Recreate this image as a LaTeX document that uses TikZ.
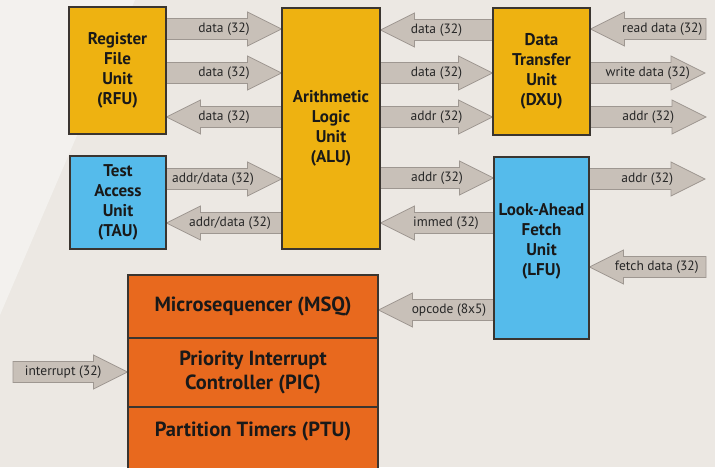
\documentclass[tikz,border=0pt]{standalone}
\usepackage{fontspec}
\setmainfont{PT Sans}
\usetikzlibrary{calc,positioning}

\definecolor{unityellow}{HTML}{EEB211}
\definecolor{unitblue}{HTML}{55BBEB}
\definecolor{unitorange}{HTML}{E8691E}
\definecolor{busfill}{HTML}{C8C0B8}
\definecolor{busline}{HTML}{9E9791}
\definecolor{pagebg}{HTML}{ECE8E3}
\definecolor{pagelight}{HTML}{F3F1EE}
\definecolor{unitline}{HTML}{3A3530}

\pgfdeclarelayer{back}
\pgfdeclarelayer{buses}
\pgfsetlayers{back,buses,main}

% block arrow: [label opts]{label name}{from}{to}{text}
\newcommand{\busarrow}[5][]{%
  \begin{pgfonlayer}{buses}
  \path[bus] let \p1=#3, \p2=#4 in
    (\x1,\y1+10.5pt) -- ({\x2-sign(\x2-\x1)*34pt},\y1+10.5pt)
    -- ({\x2-sign(\x2-\x1)*34pt},\y1+17pt) -- (\x2,\y1)
    -- ({\x2-sign(\x2-\x1)*34pt},\y1-17pt) -- ({\x2-sign(\x2-\x1)*34pt},\y1-10.5pt)
    -- (\x1,\y1-10.5pt) -- cycle
    ({(\x1+\x2)/2},\y1) node[buslabel,#1] (#2) {#5};
  \end{pgfonlayer}}

\begin{document}
\begin{tikzpicture}[
  x=1pt, y=-1pt,
  unit/.style={draw=unitline, line width=1.1pt, align=center, inner sep=0pt, text=black!90,
    font=\bfseries\fontsize{17}{20}\selectfont},
  core/.style={unit, fill=unitorange, minimum width=250pt,
    font=\bfseries\fontsize{20.5}{23.5}\selectfont},
  bus/.style={fill=busfill, draw=busline, line width=0.8pt, line join=miter},
  buslabel/.style={inner sep=0pt, text=black!85, font=\fontsize{13.5}{15}\selectfont}
]
\useasboundingbox (0,0) rectangle (715,467);
\begin{pgfonlayer}{back}
  \fill[pagebg] (0,0) rectangle (715,467);
  \fill[pagelight] (0,0) -- (135,0) -- (0,315) -- cycle;
\end{pgfonlayer}

% units
\node[unit, fill=unityellow, minimum width=97pt, minimum height=127pt] (rfu) at (117.5,70.5) {Register\\File\\Unit\\(RFU)};
\node[unit, fill=unityellow, minimum width=98pt, minimum height=241pt] (alu) at (331,128.5) {Arithmetic\\Logic\\Unit\\(ALU)};
\node[unit, fill=unityellow, minimum width=97pt, minimum height=127pt] (dxu) at (541.5,71.5) {Data\\Transfer\\Unit\\(DXU)};
\node[unit, fill=unitblue, minimum width=96pt, minimum height=93pt] (tau) at (118,202.5) {Test\\Access\\Unit\\(TAU)};
\node[unit, fill=unitblue, minimum width=95pt, minimum height=182pt, text depth=17pt] (lfu) at (541.5,248) {Look-Ahead\\Fetch\\Unit\\(LFU)};

\node[core, minimum height=63pt] (msq) at (253,306.5) {Microsequencer (MSQ)};
\node[core, minimum height=69pt] (pic) at (253,372.5) {Priority Interrupt\\Controller (PIC)};
\node[core, minimum height=62pt, text depth=17pt] (ptu) at (253,438) {Partition Timers (PTU)};

% free ends
\coordinate (rdin) at (706,29);
\coordinate (wdout) at (705,73);
\coordinate (adout) at (706,117);
\coordinate (faout) at (705,179);
\coordinate (fdin) at (706,267);
\coordinate (irqin) at (13,372);

% buses
\busarrow{l1}{(rfu.east |- 0,29)}{(alu.west |- 0,29)}{data (32)}
\busarrow{l2}{(rfu.east |- 0,73)}{(alu.west |- 0,73)}{data (32)}
\busarrow{l3}{(alu.west |- 0,117)}{(rfu.east |- 0,117)}{data (32)}
\busarrow{l4}{(dxu.west |- 0,30)}{(alu.east |- 0,30)}{data (32)}
\busarrow{l5}{(alu.east |- 0,73)}{(dxu.west |- 0,73)}{data (32)}
\busarrow{l6}{(alu.east |- 0,117)}{(dxu.west |- 0,117)}{addr (32)}
\busarrow[xshift=14pt]{l7}{(rdin)}{(dxu.east |- rdin)}{read data (32)}
\busarrow{l8}{(dxu.east |- wdout)}{(wdout)}{write data (32)}
\busarrow{l9}{(dxu.east |- adout)}{(adout)}{addr (32)}
\busarrow[xshift=-11pt]{l10}{(tau.east |- 0,179)}{(alu.west |- 0,179)}{addr/data (32)}
\busarrow[xshift=6pt]{l11}{(alu.west |- 0,223)}{(tau.east |- 0,223)}{addr/data (32)}
\busarrow{l12}{(alu.east |- 0,178)}{(lfu.west |- 0,178)}{addr (32)}
\busarrow[xshift=9pt]{l13}{(lfu.west |- 0,223)}{(alu.east |- 0,223)}{immed (32)}
\busarrow{l14}{(lfu.east |- faout)}{(faout)}{addr (32)}
\busarrow[xshift=9pt]{l15}{(fdin)}{(lfu.east |- fdin)}{fetch data (32)}
\busarrow[xshift=13pt]{l16}{(lfu.west |- 0,310)}{(msq.east |- 0,310)}{opcode (8x5)}
\busarrow[xshift=-7pt]{l17}{(irqin)}{(pic.west |- irqin)}{interrupt (32)}
\end{tikzpicture}
\end{document}
